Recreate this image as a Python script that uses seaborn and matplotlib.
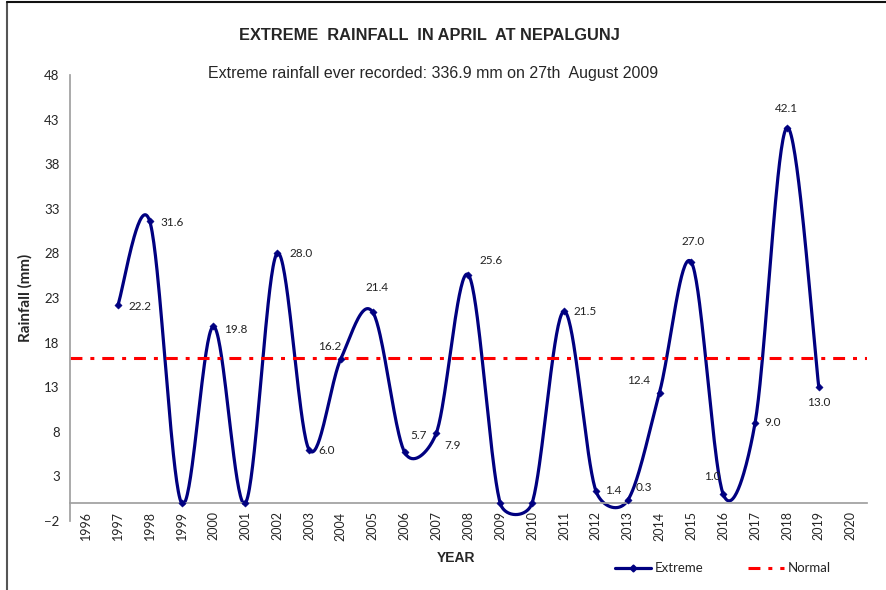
import numpy as np
import pandas as pd
import seaborn as sns
from matplotlib import pyplot as plt
from matplotlib.lines import Line2D

sns.set_theme(style="white")
plt.rcParams["font.family"] = ["Lato", "DejaVu Sans"]

# data
years = list(range(1996, 2021))
data_years = list(range(1997, 2020))
extreme = [22.2, 31.6, 0.0, 19.8, 0.0, 28.0, 6.0, 16.2, 21.4, 5.7, 7.9, 25.6,
           0.0, 0.0, 21.5, 1.4, 0.3, 12.4, 27.0, 1.0, 9.0, 42.1, 13.0]
normal = 16.3
labels = ["22.2", "31.6", "", "19.8", "", "28.0", "6.0", "16.2", "21.4", "5.7", "7.9", "25.6",
          "", "", "21.5", "1.4", "0.3", "12.4", "27.0", "1.0", "9.0", "42.1", "13.0"]
# label offsets in points (dx, dy, ha)
offs = [(8, -1, "left"), (8, -1, "left"), (0, 0, "left"), (8, -2, "left"), (0, 0, "left"),
        (9, 0, "left"), (7, -1, "left"), (-8, 9, "center"), (3, 18, "center"),
        (4, 12, "left"), (6, -9, "left"), (8, 10, "left"), (0, 0, "left"), (0, 0, "left"),
        (7, 0, "left"), (7, 0, "left"), (6, 9, "left"), (-7, 9, "right"), (1, 15, "center"),
        (-8, 13, "center"), (7, 0, "left"), (0, 14, "center"), (0, -11, "center")]

df = pd.DataFrame({"Year": data_years, "Rainfall": extreme})
df["x"] = df["Year"] - 1996

# smoothed line like Excel: bezier, control arm = |P2-P0|/6 capped at half the segment (pixel space)
sx, sy = 31.9, 8.92  # px per x unit / y unit
P = df[["x", "Rainfall"]].to_numpy(dtype=float) * [sx, sy]
Pe = np.vstack([P[0], P, P[-1]])
t = np.linspace(0, 1, 40)[:, None]
seg = []
for i in range(len(P) - 1):
    p0, p1, p2, p3 = Pe[i], Pe[i + 1], Pe[i + 2], Pe[i + 3]
    half = np.linalg.norm(p2 - p1) / 2
    a, b = p2 - p0, p3 - p1
    la = min(np.linalg.norm(a) / 6, half)
    lb = min(np.linalg.norm(b) / 6, half)
    c1 = p1 + (a / np.linalg.norm(a) * la if np.linalg.norm(a) else 0)
    c2 = p2 - (b / np.linalg.norm(b) * lb if np.linalg.norm(b) else 0)
    seg.append((1 - t) ** 3 * p1 + 3 * (1 - t) ** 2 * t * c1 + 3 * (1 - t) * t ** 2 * c2 + t ** 3 * p2)
curve = pd.DataFrame(np.vstack(seg) / [sx, sy], columns=["x", "y"])

fig = plt.figure(figsize=(8.87, 5.90), dpi=100)
ax = fig.add_axes([0.079, 0.117, 0.898, 0.756])
navy = "#000080"
red_dash = (3.9, 2.6, 1.3, 2.6)
sns.lineplot(data=curve, x="x", y="y", sort=False, estimator=None, color=navy, lw=2.3, ax=ax)
sns.scatterplot(data=df, x="x", y="Rainfall", marker="D", s=14, color=navy, edgecolor=navy, ax=ax, zorder=4)
ax.axhline(normal, color="#ff0000", lw=2.2, dashes=red_dash)

for xi, yi, lab, (dx, dy, ha) in zip(df["x"], df["Rainfall"], labels, offs):
    if lab:
        ax.annotate(lab, (xi, yi), xytext=(dx, dy), textcoords="offset points",
                    ha=ha, va="center", fontsize=8.5, color="#222222")

ax.set_xlim(-0.5, len(years) - 0.5)
ax.set_ylim(-2, 48)
ax.set_yticks(np.arange(-2, 49, 5))
ax.set_xticks(range(len(years)))
ax.set_xticklabels(years)
ax.set_xticks(np.arange(-0.5, len(years), 1), minor=True)
ax.tick_params(axis="x", which="major", length=0, pad=6, labelrotation=90, labelsize=9)
ax.tick_params(axis="x", which="minor", length=4, color="#a0a0a0", direction="out")
ax.tick_params(axis="y", length=4, color="#a0a0a0", direction="out", labelsize=9.5)
for s in ["top", "right"]:
    ax.spines[s].set_visible(False)
ax.spines["bottom"].set_position(("data", 0))
ax.spines["bottom"].set_color("#a0a0a0")
ax.spines["left"].set_color("#a0a0a0")
ax.set_xlabel("YEAR", fontsize=10, fontweight="bold", family="Liberation Sans")
ax.xaxis.set_label_coords(0.484, -0.068)
ax.set_ylabel("Rainfall (mm)", fontsize=11, fontweight="bold", labelpad=8)

fig.text(0.484, 0.94, "EXTREME  RAINFALL  IN APRIL  AT NEPALGUNJ", ha="center", va="center",
         fontsize=11.8, fontweight="bold", family="Liberation Sans")
fig.text(0.488, 0.876, "Extreme rainfall ever recorded: 336.9 mm on 27th  August 2009", ha="center",
         va="center", fontsize=11.5, family="Liberation Sans")

handles = [Line2D([], [], color=navy, lw=2.3, marker="D", markersize=3.5),
           Line2D([], [], color="#ff0000", lw=2.2, dashes=red_dash)]
fig.legend(handles, ["Extreme", "Normal"], loc="center", bbox_to_anchor=(0.815, 0.037), ncol=2,
           frameon=False, fontsize=9.5, handlelength=2.7, handletextpad=0.3, columnspacing=3.4,
           numpoints=1)

# outer chart frame (top and left visible)
fig.add_artist(Line2D([0.008, 0.008], [0, 0.997], color="#555555", lw=1.5, transform=fig.transFigure))
fig.add_artist(Line2D([0.008, 1], [0.997, 0.997], color="#111111", lw=1.5, transform=fig.transFigure))

fig.savefig("out.png", dpi=100)
